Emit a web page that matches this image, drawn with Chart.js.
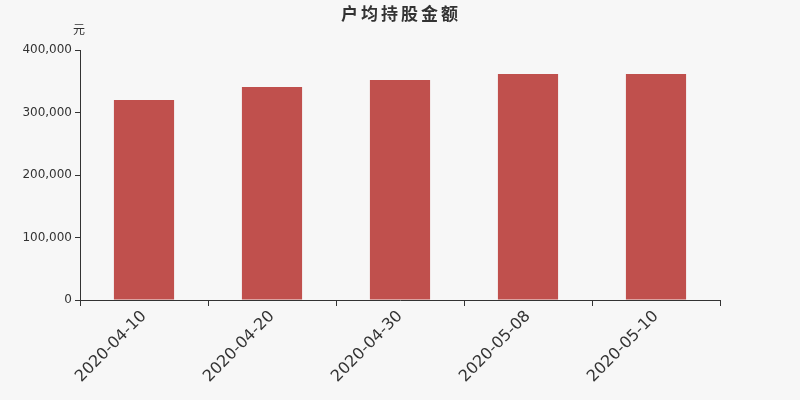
<!DOCTYPE html>
<html><head><meta charset="utf-8">
<script src="https://cdn.jsdelivr.net/npm/chart.js@4"></script>
<style>html,body{margin:0;padding:0;background:#f7f7f7;}#wrap{width:800px;height:400px;}</style>
</head><body><div id="wrap"><canvas id="c" width="800" height="400"></canvas></div>
<script>
const categories = ['2020-04-10','2020-04-20','2020-04-30','2020-05-08','2020-05-10'];
const values = [320000, 340800, 352000, 361600, 361600];
const yTicks = [0, 100000, 200000, 300000, 400000];
const titleText = '户均持股金额';
const unitText = '元';

const fontFam = '"DejaVu Sans","Noto Sans CJK SC",sans-serif';
const deco = {
  id: 'deco',
  beforeDraw(chart) {
    const c = chart.ctx;
    c.save();
    c.fillStyle = '#f7f7f7';
    c.fillRect(0, 0, chart.width, chart.height);
    c.restore();
  },
  afterDraw(chart) {
    const c = chart.ctx;
    c.save();
    c.fillStyle = '#333';
    c.textAlign = 'center';
    c.textBaseline = 'middle';
    c.font = 'bold 17px "Noto Sans CJK SC",sans-serif';
    try { c.letterSpacing = '3px'; } catch (e) {}
    c.fillText(titleText, 401, 14);
    try { c.letterSpacing = '0px'; } catch (e) {}
    c.font = '12px "Noto Sans CJK SC",sans-serif';
    c.fillText(unitText, 79, 29);
    c.restore();
  }
};

new Chart(document.getElementById('c'), {
  type: 'bar',
  data: { labels: categories, datasets: [{ data: values, backgroundColor: '#c0504d', barPercentage: 0.47, categoryPercentage: 1 }] },
  options: {
    responsive: false, animation: false, devicePixelRatio: 1,
    layout: { padding: { top: 50, right: 80, left: 0, bottom: 0 } },
    plugins: { legend: { display: false }, tooltip: { enabled: false } },
    scales: {
      x: {
        afterFit(s) { s.height = 100; },
        grid: { drawOnChartArea: false, drawTicks: true, tickLength: 6, color: '#333', offset: true },
        border: { display: true, color: '#333', width: 1 },
        ticks: { color: '#333', font: { family: fontFam, size: 16 }, maxRotation: 45, minRotation: 45, padding: 1 }
      },
      y: {
        min: 0, max: 400000,
        afterFit(s) { s.width = 80; },
        afterBuildTicks(s) { s.ticks = yTicks.map(v => ({ value: v })); },
        grid: { drawOnChartArea: false, drawTicks: true, tickLength: 5, color: '#333' },
        border: { display: true, color: '#333', width: 1 },
        ticks: { color: '#333', font: { family: fontFam, size: 12 }, padding: 3,
          callback: v => v.toLocaleString('en-US') }
      }
    }
  },
  plugins: [deco]
});
</script></body></html>
